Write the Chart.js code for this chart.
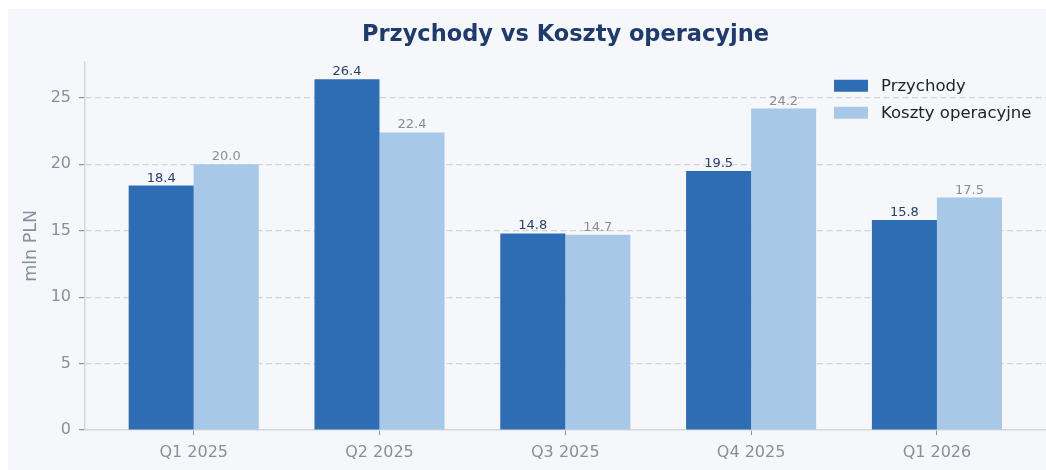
<!DOCTYPE html>
<html>
<head>
<meta charset="utf-8">
<script src="https://cdn.jsdelivr.net/npm/chart.js@4/dist/chart.umd.min.js"></script>
<style>
  html, body { margin: 0; padding: 0; background: #ffffff; }
  #wrap { position: absolute; left: 8px; top: 9px; width: 1038px; height: 461px; background: #f6f7fb; }
</style>
</head>
<body>
<div id="wrap"><canvas id="myChart" width="1038" height="461"></canvas></div>
<script>
// dane
const quarters = ['Q1 2025', 'Q2 2025', 'Q3 2025', 'Q4 2025', 'Q1 2026'];
const przychody = [18.4, 26.4, 14.8, 19.5, 15.8];
const koszty = [20.0, 22.4, 14.7, 24.2, 17.5];
const yTicks = [0, 5, 10, 15, 20, 25];

const FONT = "'DejaVu Sans', sans-serif";
const tickGray = '#85909a';
const axisGray = '#d3d7dd';

// etykiety wartosci nad slupkami
const valueLabels = {
    id: 'valueLabels',
    afterDatasetsDraw(chart) {
        const ctx = chart.ctx;
        ctx.save();
        ctx.font = '13px ' + FONT;
        ctx.textAlign = 'center';
        ctx.textBaseline = 'alphabetic';
        chart.data.datasets.forEach((ds, i) => {
            const meta = chart.getDatasetMeta(i);
            ctx.fillStyle = ds.labelColor;
            meta.data.forEach((bar, j) => {
                ctx.fillText(ds.data[j].y.toFixed(1), bar.x, bar.y - 4);
            });
        });
        ctx.restore();
    }
};

// legenda w prawym gornym rogu wykresu
const cornerLegend = {
    id: 'cornerLegend',
    afterDraw(chart) {
        const ctx = chart.ctx;
        const area = chart.chartArea;
        const x0 = area.right - 212;
        let y0 = area.top + 18;
        ctx.save();
        ctx.font = '16.5px ' + FONT;
        ctx.textBaseline = 'middle';
        ctx.textAlign = 'left';
        chart.data.datasets.forEach(ds => {
            ctx.fillStyle = ds.backgroundColor;
            ctx.fillRect(x0, y0, 34, 12);
            ctx.fillStyle = '#222222';
            ctx.fillText(ds.label, x0 + 47, y0 + 7);
            y0 += 27;
        });
        ctx.restore();
    }
};

const data = {
    datasets: [{
        label: 'Przychody',
        backgroundColor: '#2e6db4',
        labelColor: '#253f6e',
        data: przychody.map((v, i) => ({ x: i, y: v })),
    }, {
        label: 'Koszty operacyjne',
        backgroundColor: '#a8c8e7',
        labelColor: '#8a8f96',
        data: koszty.map((v, i) => ({ x: i, y: v })),
    }]
};

const config = {
    type: 'bar',
    data: data,
    options: {
        responsive: false,
        animation: false,
        devicePixelRatio: 1,
        categoryPercentage: 0.7,
        barPercentage: 1.0,
        borderWidth: 0,
        layout: { padding: 0 },
        plugins: {
            legend: { display: false },
            tooltip: { enabled: false },
            title: {
                display: true,
                fullSize: false,
                text: 'Przychody vs Koszty operacyjne',
                color: '#1f3b6e',
                font: { family: FONT, size: 22.5, weight: 'bold', lineHeight: 1.1 },
                padding: { top: 14, bottom: 14 }
            }
        },
        scales: {
            x: {
                type: 'linear',
                offset: false,
                min: -0.585,
                max: 4.587,
                afterBuildTicks(scale) {
                    scale.ticks = quarters.map((q, i) => ({ value: i }));
                },
                afterFit(scale) { scale.height = 40; },
                ticks: {
                    color: tickGray,
                    font: { family: FONT, size: 16 },
                    padding: 8,
                    callback: v => quarters[v]
                },
                grid: {
                    offset: false,
                    drawOnChartArea: false,
                    tickLength: 5,
                    tickColor: '#8a949c',
                    color: 'transparent'
                },
                border: { display: true, color: axisGray, width: 1.5 }
            },
            y: {
                min: 0,
                max: 27.72,
                afterBuildTicks(scale) {
                    scale.ticks = yTicks.map(v => ({ value: v }));
                },
                afterFit(scale) { scale.width = 77; },
                ticks: {
                    color: tickGray,
                    font: { family: FONT, size: 16 },
                    padding: 8
                },
                grid: {
                    color: ctx => ctx.tick && ctx.tick.value === 0 ? 'transparent' : '#cfd4db',
                    lineWidth: 1.2,
                    tickLength: 6,
                    tickColor: '#8a949c',
                    tickBorderDash: [],
                },
                border: { display: true, color: axisGray, width: 1.5, dash: [6, 3.5] },
                title: {
                    display: true,
                    text: 'mln PLN',
                    color: tickGray,
                    font: { family: FONT, size: 17.5 },
                    padding: { top: 13, bottom: 0 }
                }
            }
        }
    },
    plugins: [valueLabels, cornerLegend]
};

const myChart = new Chart(document.getElementById('myChart'), config);
</script>
</body>
</html>
